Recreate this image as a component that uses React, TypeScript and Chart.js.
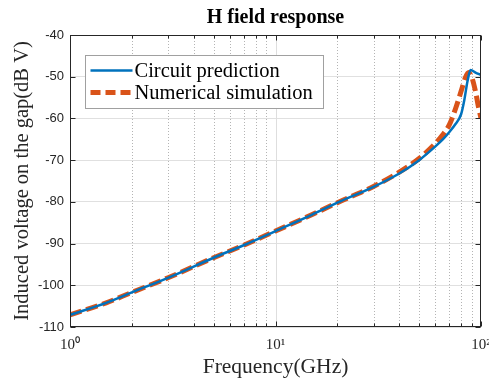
import React, { useEffect, useRef } from "react";
import { Chart, registerables } from "chart.js";

Chart.register(...registerables);

const TITLE = "H field response";
const X_TITLE = "Frequency(GHz)";
const Y_TITLE = "Induced voltage on the gap(dB V)";
const SERIES_NAMES = ["Circuit prediction", "Numerical simulation"];
const SERIES_COLORS = ["#0072BD", "#D95319"];

const circuitFreq = [1, 1.5, 2, 3, 5, 7, 10, 15, 20, 30, 40, 50, 60, 65, 70, 75, 80, 83, 86, 89, 94, 100];
const circuitVals = [-107.1, -104.2, -101.7, -98.2, -93.4, -90.4, -87.0, -83.1, -80.2, -76.4, -73.2, -70.0, -66.7, -65.1, -63.3, -61.4, -59.0, -55.5, -51.0, -48.4, -49.0, -49.6];

const simFreq = [1, 1.5, 2, 3, 5, 7, 10, 15, 20, 30, 40, 50, 60, 65, 70, 75, 80, 84, 87, 90, 94, 97, 100];
const simVals = [-107.1, -104.2, -101.7, -98.2, -93.4, -90.4, -87.0, -83.1, -80.2, -76.3, -72.9, -69.6, -66.0, -64.0, -61.6, -57.8, -53.5, -50.2, -49.0, -50.0, -53.5, -57.0, -60.0];

const Y_TICKS = [-110, -100, -90, -80, -70, -60, -50, -40];
const X_DECADE_LABELS: Record<number, string> = { 1: "10\u2070", 10: "10\u00B9", 100: "10\u00B2" };

const SERIF = "'Liberation Serif', 'Times New Roman', serif";
const SANS = "'Liberation Sans', Arial, sans-serif";

const isDecade = (v: number) => Math.abs(Math.log10(v) - Math.round(Math.log10(v))) < 1e-9;

const framePlugin = {
  id: "frameAndGrid",
  beforeDatasetsDraw(chart: any) {
    const { ctx, chartArea: a, scales } = chart;
    const xs = scales.x;
    ctx.save();
    for (const t of xs.ticks) {
      const px = Math.round(xs.getPixelForValue(t.value)) + 0.5;
      if (px <= a.left + 1 || px >= a.right - 1) continue;
      ctx.beginPath();
      if (isDecade(t.value)) {
        ctx.setLineDash([]);
        ctx.strokeStyle = "#dedede";
      } else {
        ctx.setLineDash([1, 2]);
        ctx.strokeStyle = "#b4b4b4";
      }
      ctx.lineWidth = 1;
      ctx.moveTo(px, a.top);
      ctx.lineTo(px, a.bottom);
      ctx.stroke();
    }
    ctx.restore();
  },
  afterDatasetsDraw(chart: any) {
    const { ctx, chartArea: a, scales } = chart;
    const xs = scales.x;
    const ys = scales.y;
    ctx.save();
    ctx.setLineDash([]);
    ctx.strokeStyle = "#262626";
    ctx.lineWidth = 1;
    const L = Math.round(a.left) + 0.5;
    const R = Math.round(a.right) - 0.5;
    const T = Math.round(a.top) + 0.5;
    const B = Math.round(a.bottom) - 0.5;
    ctx.strokeRect(L, T, R - L, B - T);
    ctx.beginPath();
    for (const t of xs.ticks) {
      const px = Math.round(xs.getPixelForValue(t.value)) + 0.5;
      const len = isDecade(t.value) ? 5 : 3;
      ctx.moveTo(px, B);
      ctx.lineTo(px, B - len);
      ctx.moveTo(px, T);
      ctx.lineTo(px, T + len);
    }
    for (const t of ys.ticks) {
      const py = Math.round(ys.getPixelForValue(t.value)) + 0.5;
      ctx.moveTo(L, py);
      ctx.lineTo(L + 5, py);
      ctx.moveTo(R, py);
      ctx.lineTo(R - 5, py);
    }
    ctx.stroke();

    // legend box
    const bx = a.left + 15.5;
    const by = a.top + 20.5;
    const bw = 238;
    const bh = 53;
    ctx.fillStyle = "#ffffff";
    ctx.fillRect(bx, by, bw, bh);
    ctx.strokeStyle = "#a0a0a0";
    ctx.strokeRect(bx, by, bw, bh);
    ctx.font = "20.5px " + SERIF;
    ctx.textBaseline = "middle";
    ctx.textAlign = "left";
    chart.data.datasets.forEach((ds: any, i: number) => {
      const cy = by + 15 + i * 22;
      ctx.beginPath();
      ctx.strokeStyle = ds.borderColor;
      ctx.lineWidth = i === 0 ? 2.5 : 5;
      ctx.setLineDash(i === 0 ? [] : [10, 5]);
      ctx.moveTo(bx + 5, cy);
      ctx.lineTo(bx + 47, cy);
      ctx.stroke();
      ctx.setLineDash([]);
      ctx.fillStyle = "#000000";
      ctx.fillText(ds.label, bx + 49, cy + 1);
    });
    ctx.restore();
  },
};

export default function App() {
  const ref = useRef<HTMLCanvasElement>(null);
  useEffect(() => {
    if (!ref.current) return;
    const chart = new Chart(ref.current, {
      type: "line",
      data: {
        datasets: [
          {
            label: SERIES_NAMES[0],
            data: circuitFreq.map((f, i) => ({ x: f, y: circuitVals[i] })),
            borderColor: SERIES_COLORS[0],
            backgroundColor: SERIES_COLORS[0],
            borderWidth: 2.5,
            pointRadius: 0,
            cubicInterpolationMode: "monotone",
          },
          {
            label: SERIES_NAMES[1],
            data: simFreq.map((f, i) => ({ x: f, y: simVals[i] })),
            borderColor: SERIES_COLORS[1],
            backgroundColor: SERIES_COLORS[1],
            borderWidth: 5,
            borderDash: [12, 5],
            pointRadius: 0,
            cubicInterpolationMode: "monotone",
          },
        ],
      },
      options: {
        animation: false,
        responsive: false,
        devicePixelRatio: 1,
        layout: { padding: { left: 0, right: 8, top: 0, bottom: 0 } },
        plugins: {
          legend: { display: false },
          tooltip: { enabled: false },
          title: {
            display: true,
            text: TITLE,
            fullSize: false,
            color: "#000000",
            font: { family: SERIF, size: 20, weight: "bold", lineHeight: 1.2 },
            padding: { top: 6, bottom: 5 },
          },
        },
        scales: {
          x: {
            type: "logarithmic",
            min: 1,
            max: 100,
            afterBuildTicks: (s: any) => {
              const arr: any[] = [];
              for (const d of [1, 10]) for (let k = 1; k <= 9; k++) arr.push({ value: d * k });
              arr.push({ value: 100 });
              s.ticks = arr;
            },
            afterFit: (s: any) => {
              s.height = 55;
              s.paddingLeft = 0;
              s.paddingRight = 0;
            },
            grid: { display: false, drawTicks: false },
            border: { display: false },
            ticks: {
              autoSkip: false,
              maxRotation: 0,
              padding: 9,
              color: "#262626",
              font: { family: SERIF, size: 15 },
              callback: (v: any) => X_DECADE_LABELS[Number(v)] ?? "",
            },
            title: {
              display: true,
              text: X_TITLE,
              color: "#262626",
              font: { family: SERIF, size: 21.5, lineHeight: 1.2 },
              padding: { top: 0, bottom: 2 },
            },
          },
          y: {
            type: "linear",
            min: -110,
            max: -40,
            afterBuildTicks: (s: any) => {
              s.ticks = Y_TICKS.map((v) => ({ value: v }));
            },
            afterFit: (s: any) => {
              s.width = 70;
              s.paddingTop = 0;
              s.paddingBottom = 0;
            },
            grid: { color: "#e0e0e0", drawTicks: false },
            border: { display: false },
            ticks: {
              padding: 6,
              color: "#262626",
              font: { family: SANS, size: 13 },
            },
            title: {
              display: true,
              text: Y_TITLE,
              color: "#262626",
              font: { family: SERIF, size: 20.5, lineHeight: 1.2 },
              padding: { top: 10, bottom: 0 },
            },
          },
        },
      },
      plugins: [framePlugin],
    } as any);
    return () => chart.destroy();
  }, []);
  return (
    <div style={{ position: "fixed", left: 0, top: 0, width: 489, height: 382, background: "#fff" }}>
      <canvas ref={ref} width={489} height={382} style={{ display: "block" }} />
    </div>
  );
}
